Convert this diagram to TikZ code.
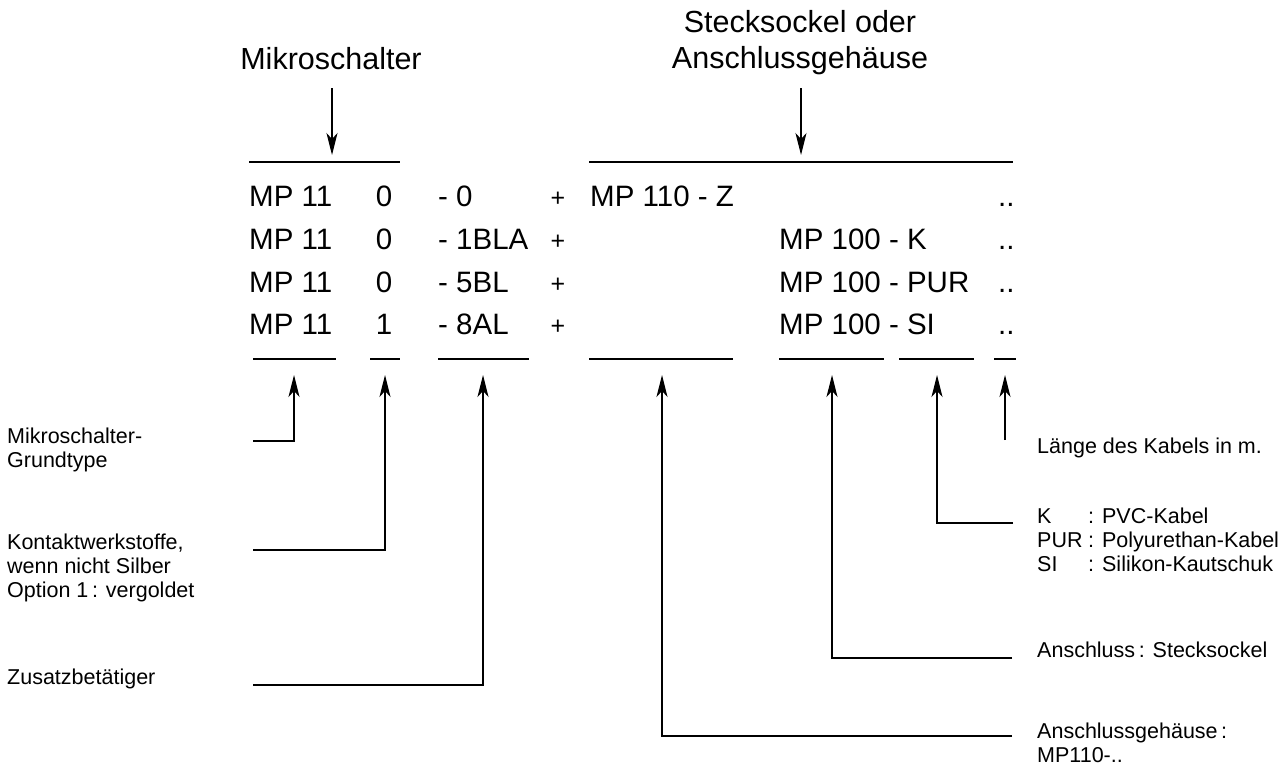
\documentclass[tikz,border=0pt]{standalone}
\usepackage{fontspec}
\setmainfont{Liberation Sans}
\usetikzlibrary{arrows.meta}
\begin{document}
\begin{tikzpicture}[x=1pt,y=-1pt,
  head/.style={inner sep=0pt, font=\fontsize{30.5}{36}\selectfont},
  big/.style={inner sep=0pt, font=\fontsize{29.5}{36}\selectfont},
  plus/.style={inner sep=0pt, font=\fontsize{25}{30}\selectfont},
  small/.style={inner sep=0pt, font=\fontsize{21.5}{24}\selectfont, align=left},
  ln/.style={line width=1.2pt},
  arr/.style={line width=1.2pt, -{Stealth[length=22pt,width=11pt,inset=6pt]}}]
\useasboundingbox (0,0) rectangle (1282,769);

% headings (base anchor = baseline of last line)
\node[head, anchor=base] (hmik) at (331,69) {Mikroschalter};
\node[head, anchor=base, align=center] (hsteck) at (800,68) {Stecksockel oder\\Anschlussgehäuse};
\coordinate (hmikA) at (332,88);
\coordinate (hmikB) at (332,155);
\coordinate (hstA) at (801,88);
\coordinate (hstB) at (801,155);
\draw[arr] (hmikA) -- (hmikB);
\draw[arr] (hstA) -- (hstB);

% top brackets
\coordinate (t1a) at (249,162); \coordinate (t1b) at (400,162);
\coordinate (t2a) at (589,162); \coordinate (t2b) at (1013,162);
\draw[ln] (t1a) -- (t1b);
\draw[ln] (t2a) -- (t2b);

% code rows
\foreach \r/\y/\d/\s in {1/206/0/{- 0}, 2/249/0/{- 1BLA}, 3/292/0/{- 5BL}, 4/334/1/{- 8AL}}{
  \node[big, anchor=base west] (mp\r) at (249,\y) {MP 11};
  \node[big, anchor=base] (dg\r) at (384,\y) {\d};
  \node[big, anchor=base west] (sx\r) at (438,\y) {\s};
  \node[plus, anchor=base] (pl\r) at (558,\y) {+};
  \node[big, anchor=base west] (dt\r) at (998,\y) {..};
}
\node[big, anchor=base west] (z1) at (590,206) {MP 110 - Z};
\node[big, anchor=base west] (k2) at (779,249) {MP 100 - K};
\node[big, anchor=base west] (k3) at (779,292) {MP 100 - PUR};
\node[big, anchor=base west] (k4) at (779,334) {MP 100 - SI};

% bottom brackets
\foreach \n/\a/\b in {1/253/336, 2/370/400, 3/438/529, 4/589/733, 5/779/884, 6/899/974, 7/994/1016}{
  \coordinate (b\n a) at (\a,359);
  \coordinate (b\n b) at (\b,359);
  \draw[ln] (b\n a) -- (b\n b);
}

% arrow tips
\coordinate (tip1) at (294,375);
\coordinate (tip2) at (385,375);
\coordinate (tip3) at (483,375);
\coordinate (tip4) at (662,375);
\coordinate (tip5) at (832,375);
\coordinate (tip6) at (937,375);
\coordinate (tip7) at (1005,375);

% line start points
\coordinate (s1) at (253,441);
\coordinate (s2) at (253,550);
\coordinate (s3) at (253,685);
\coordinate (s4) at (1012,736);
\coordinate (s5) at (1012,658);
\coordinate (s6) at (1013,523);
\coordinate (s7) at (1005,440);

\draw[arr] (s1) -| (tip1);
\draw[arr] (s2) -| (tip2);
\draw[arr] (s3) -| (tip3);
\draw[arr] (s4) -| (tip4);
\draw[arr] (s5) -| (tip5);
\draw[arr] (s6) -| (tip6);
\draw[arr] (s7) -- (tip7);

% left labels
\node[small, anchor=base west] (l1) at (7,467) {Mikroschalter-\\Grundtype};
\node[small, anchor=base west] (l2) at (7,597) {Kontaktwerkstoffe,\\wenn nicht Silber\\Option 1\,: vergoldet};
\node[small, anchor=base west] (l3) at (7,684) {Zusatzbetätiger};

% right labels
\node[small, anchor=base west] (r1) at (1037,453) {Länge des Kabels in m.};
\node[small, anchor=base west] (r2k) at (1037,571) {K\\PUR\\SI};
\node[small, anchor=base west] (r2t) at (1088,571) {: PVC-Kabel\\: Polyurethan-Kabel\\: Silikon-Kautschuk};
\node[small, anchor=base west] (r3) at (1037,657) {Anschluss\,: Stecksockel};
\node[small, anchor=base west] (r4) at (1037,762) {Anschlussgehäuse\,:\\MP110-..};
\end{tikzpicture}
\end{document}
